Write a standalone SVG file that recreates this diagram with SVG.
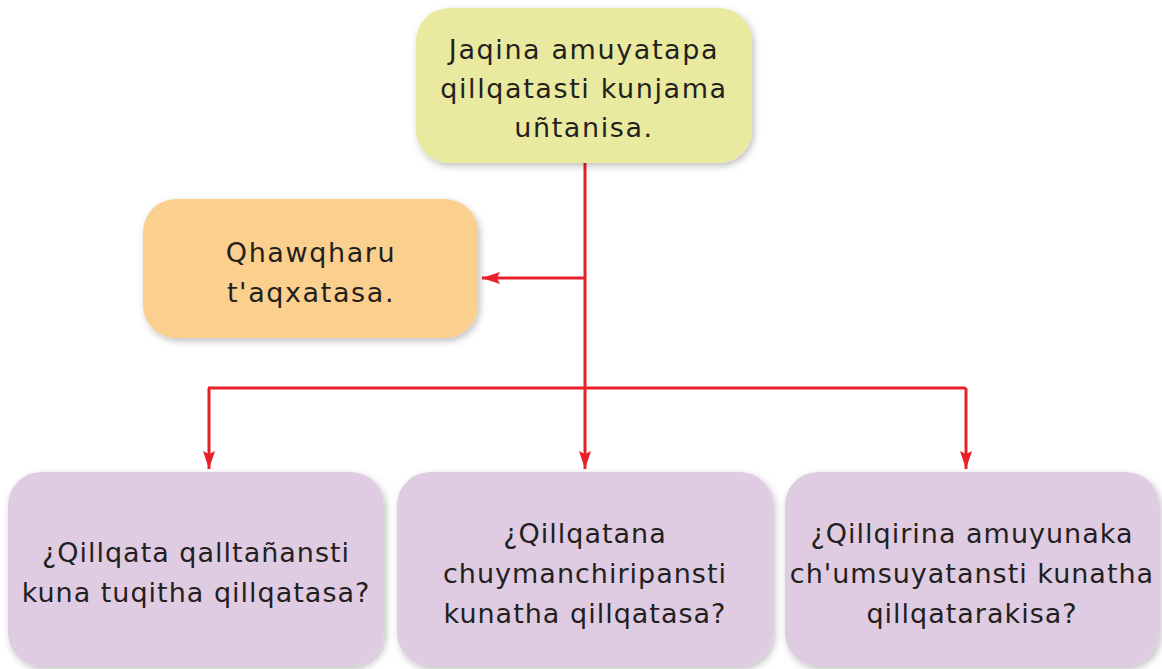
<svg xmlns="http://www.w3.org/2000/svg" width="1162" height="669" viewBox="0 0 1162 669">
<style>
.t{font-family:"DejaVu Sans","Liberation Sans",sans-serif;font-size:27px;fill:#231f20;text-anchor:middle;letter-spacing:1px}
.tt{letter-spacing:1.6px}
.c{fill:none;stroke:#e8202a;stroke-width:3}
.box{filter:url(#sh)}
</style>
<defs>
<filter id="sh" x="-10%" y="-10%" width="120%" height="130%">
<feDropShadow dx="2" dy="3" stdDeviation="3.5" flood-color="#000" flood-opacity="0.25"/>
</filter>
<marker id="a2" viewBox="0 0 18 12" refX="18" refY="6" markerWidth="18" markerHeight="12" markerUnits="userSpaceOnUse" orient="auto">
<path d="M0,0 L18,6 L0,12 L3,6 Z" fill="#e8202a"/>
</marker>
</defs>
<g id="connectors">
<path class="c" d="M585,163 V388"/>
<path class="c" d="M585,278 H482" marker-end="url(#a2)"/>
<path class="c" d="M208,388 H966"/>
<path class="c" d="M209,388 V469" marker-end="url(#a2)"/>
<path class="c" d="M585,388 V469" marker-end="url(#a2)"/>
<path class="c" d="M966,388 V469" marker-end="url(#a2)"/>
</g>
<g id="node-top">
<rect class="box" x="416" y="8" width="336" height="155" rx="33" fill="#e9ea9f"/>
<text class="t tt" x="584" y="59">Jaqina amuyatapa</text>
<text class="t tt" x="584" y="98">qillqatasti kunjama</text>
<text class="t tt" x="584" y="137">uñtanisa.</text>
</g>
<g id="node-orange">
<rect class="box" x="143" y="199" width="335" height="139" rx="33" fill="#fbcf8d"/>
<text class="t tt" x="311" y="262">Qhawqharu</text>
<text class="t tt" x="311" y="302">t'aqxatasa.</text>
</g>
<g id="node-q1">
<rect class="box" x="8" y="472" width="376" height="194" rx="33" fill="#dfcce2"/>
<text class="t" x="196" y="562">¿Qillqata qalltañansti</text>
<text class="t" x="196" y="602">kuna tuqitha qillqatasa?</text>
</g>
<g id="node-q2">
<rect class="box" x="397" y="472" width="376" height="194" rx="33" fill="#dfcce2"/>
<text class="t" x="585" y="543">¿Qillqatana</text>
<text class="t" x="585" y="583">chuymanchiripansti</text>
<text class="t" x="585" y="623">kunatha qillqatasa?</text>
</g>
<g id="node-q3">
<rect class="box" x="785" y="472" width="374" height="194" rx="33" fill="#dfcce2"/>
<text class="t" x="972" y="543">¿Qillqirina amuyunaka</text>
<text class="t" x="972" y="583">ch'umsuyatansti kunatha</text>
<text class="t" x="972" y="623">qillqatarakisa?</text>
</g>
</svg>
